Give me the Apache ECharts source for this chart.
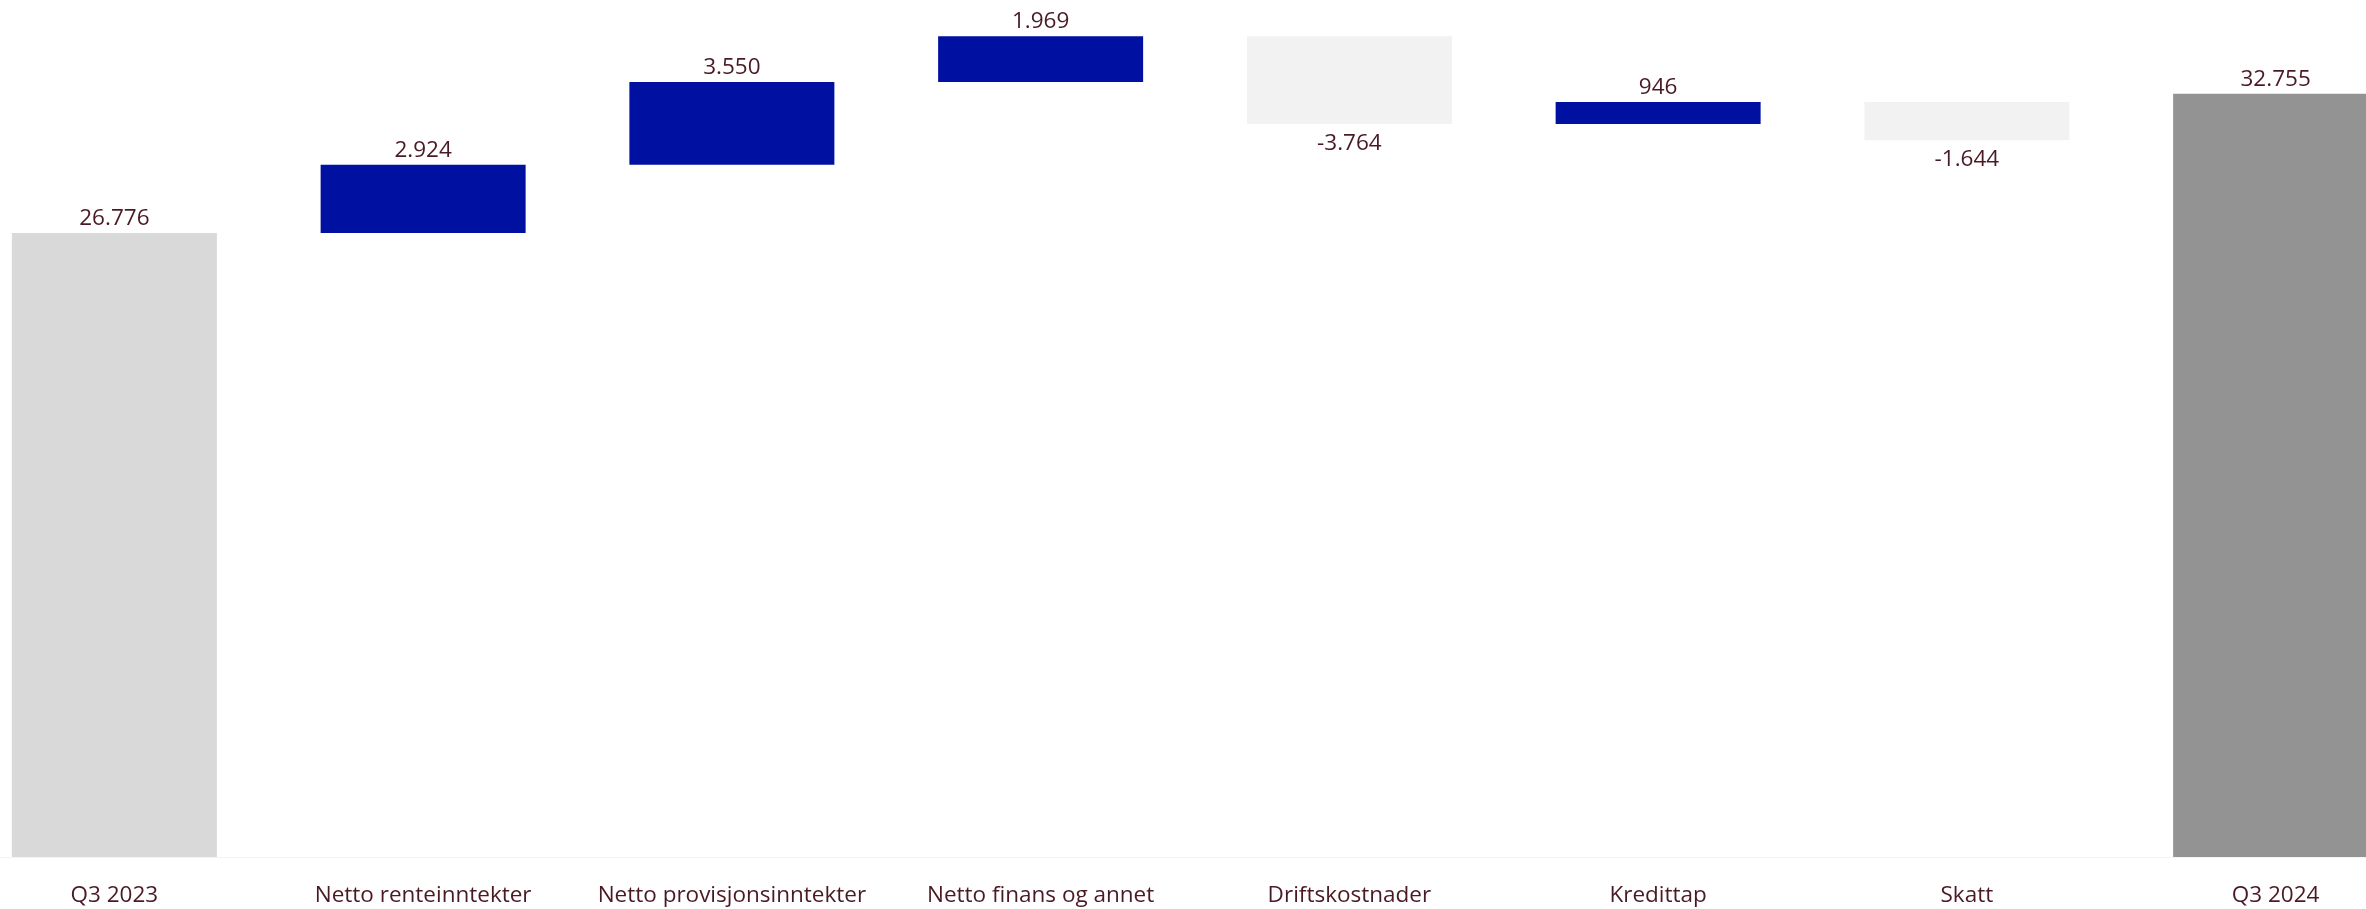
<!DOCTYPE html>
<html>
<head>
<meta charset="utf-8">
<script src="https://cdn.jsdelivr.net/npm/echarts@6/dist/echarts.min.js"></script>
<style>
html,body{margin:0;padding:0;background:#fff;}
#chart{width:2366px;height:909px;}
</style>
</head>
<body>
<div id="chart"></div>
<script>
const categories = ['Q3 2023', 'Netto renteinntekter', 'Netto provisjonsinntekter', 'Netto finans og annet', 'Driftskostnader', 'Kredittap', 'Skatt', 'Q3 2024'];
const values = [26776, 2924, 3550, 1969, -3764, 946, -1644, 32755];
const kinds = ['total', 'delta', 'delta', 'delta', 'delta', 'delta', 'delta', 'total'];

const colorTotalStart = '#D9D9D9';
const colorTotalEnd = '#939393';
const colorUp = '#0010A0';
const colorDown = '#F2F2F2';
const textColor = '#4A1A24';

function fmt(v) {
  const s = Math.abs(v).toString().replace(/\B(?=(\d{3})+(?!\d))/g, '.');
  return (v < 0 ? '-' : '') + s;
}

const baseData = [];
const barData = [];
let running = 0;
values.forEach((v, i) => {
  if (kinds[i] === 'total') {
    baseData.push(0);
    running = v;
    barData.push({
      value: v,
      itemStyle: { color: i === 0 ? colorTotalStart : colorTotalEnd },
      label: { position: 'top', distance: 3 }
    });
  } else if (v >= 0) {
    baseData.push(running);
    running += v;
    barData.push({
      value: v,
      itemStyle: { color: colorUp },
      label: { position: 'top', distance: 3 }
    });
  } else {
    running += v;
    baseData.push(running);
    barData.push({
      value: -v,
      itemStyle: { color: colorDown },
      label: { position: 'bottom', distance: 8 }
    });
  }
});

const chart = echarts.init(document.getElementById('chart'), null, { renderer: 'canvas' });
chart.setOption({
  animation: false,
  backgroundColor: '#ffffff',
  grid: { left: -40, width: 2470, top: 18, bottom: 52, containLabel: false, outerBoundsMode: 'none' },
  xAxis: {
    type: 'category',
    data: categories,
    axisTick: { show: false },
    axisLine: { show: true, lineStyle: { color: '#F4F4F4', width: 1 } },
    axisLabel: { color: textColor, fontSize: 22.5, fontFamily: 'Open Sans', margin: 27, interval: 0 }
  },
  yAxis: {
    type: 'value',
    min: 0,
    max: 36000,
    show: false,
    splitLine: { show: false }
  },
  series: [
    {
      type: 'bar',
      stack: 'wf',
      data: baseData,
      itemStyle: { color: 'transparent' },
      barWidth: 205,
      silent: true
    },
    {
      type: 'bar',
      stack: 'wf',
      data: barData,
      barWidth: 205,
      label: {
        show: true,
        color: textColor,
        fontSize: 22.5,
        fontFamily: 'Open Sans',
        formatter: p => fmt(values[p.dataIndex])
      }
    }
  ]
});
</script>
</body>
</html>
